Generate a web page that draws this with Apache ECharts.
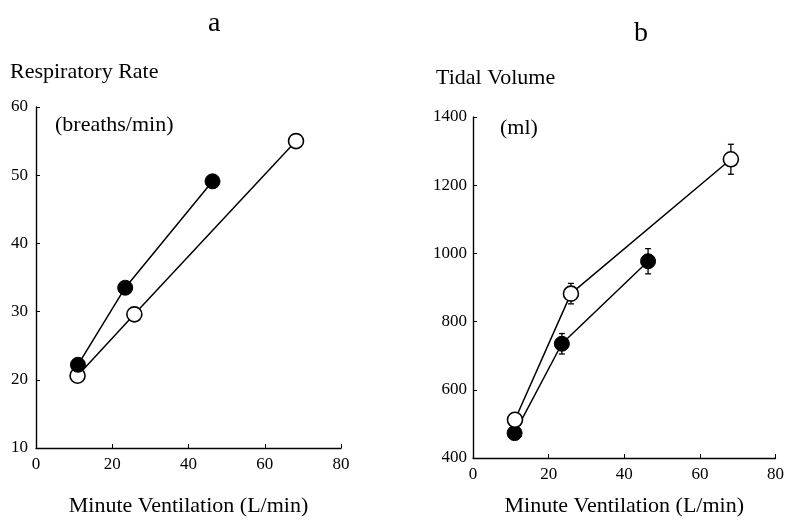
<!DOCTYPE html>
<html>
<head>
<meta charset="utf-8">
<script src="https://cdn.jsdelivr.net/npm/echarts@6/dist/echarts.min.js"></script>
<style>
    html, body { margin: 0; padding: 0; background: #fff; }
    #main { width: 787px; height: 522px; }
</style>
</head>
<body>
<div id="main"></div>
<script>
// 呼吸频率 (a)
var rrFilledX = [11.0, 23.4, 46.3];
var rrFilledY = [22.2, 33.5, 49.1];
var rrFilledErr = [0.3, 0.3, 0.9];
var rrOpenX = [10.9, 25.8, 68.2];
var rrOpenY = [20.6, 29.6, 55.0];
var rrOpenErr = [0.3, 0.3, 0.6];

// 潮气量 (b)
var tvFilledX = [11.0, 23.5, 46.3];
var tvFilledY = [473, 735, 977];
var tvFilledErr = [10, 30, 37];
var tvOpenX = [11.1, 25.9, 68.2];
var tvOpenY = [512, 882, 1276];
var tvOpenErr = [10, 30, 44];

var xTicks = [0, 20, 40, 60, 80];
var rrTicks = [10, 20, 30, 40, 50, 60];
var tvTicks = [400, 600, 800, 1000, 1200, 1400];

var FONT = 'Liberation Serif';

function zip(xs, ys) {
    var out = [];
    for (var i = 0; i < xs.length; i++) out.push([xs[i], ys[i]]);
    return out;
}
function zip3(xs, ys, es) {
    var out = [];
    for (var i = 0; i < xs.length; i++) out.push([xs[i], ys[i], es[i]]);
    return out;
}

function errorBars(params, api) {
    var x = api.value(0), y = api.value(1), e = api.value(2);
    var top = api.coord([x, y + e]);
    var bot = api.coord([x, y - e]);
    var st = { stroke: '#000', lineWidth: 1.3 };
    return {
        type: 'group',
        children: [
            { type: 'line', shape: { x1: top[0], y1: top[1], x2: bot[0], y2: bot[1] }, style: st },
            { type: 'line', shape: { x1: top[0] - 3, y1: top[1], x2: top[0] + 3, y2: top[1] }, style: st },
            { type: 'line', shape: { x1: bot[0] - 3, y1: bot[1], x2: bot[0] + 3, y2: bot[1] }, style: st }
        ]
    };
}

function xAxisDef(gridIndex, nameGap) {
    return {
        gridIndex: gridIndex,
        type: 'value',
        min: 0, max: 80, interval: 20,
        name: 'Minute Ventilation (L/min)',
        nameLocation: 'middle',
        nameGap: nameGap,
        nameTextStyle: { fontFamily: FONT, fontSize: 22, color: '#000' },
        axisLine: { lineStyle: { color: '#000', width: 1.4 } },
        axisTick: { inside: true, length: 4, lineStyle: { color: '#000' } },
        axisLabel: {
            fontFamily: FONT, fontSize: 17, color: '#000', margin: 8,
            formatter: function (v) { return xTicks.indexOf(v) >= 0 ? String(v) : ''; }
        },
        splitLine: { show: false }
    };
}

function yAxisDef(gridIndex, min, max, interval, ticks, margin) {
    return {
        gridIndex: gridIndex,
        type: 'value',
        min: min, max: max, interval: interval,
        axisLine: { show: true, lineStyle: { color: '#000', width: 1.4 } },
        axisTick: { show: true, inside: true, length: 4, lineStyle: { color: '#000' } },
        axisLabel: {
            fontFamily: FONT, fontSize: 17, color: '#000', margin: margin,
            formatter: function (v) { return ticks.indexOf(v) >= 0 ? String(v) : ''; }
        },
        splitLine: { show: false }
    };
}

function lineSeries(xi, data, filled, z) {
    return {
        type: 'line',
        xAxisIndex: xi, yAxisIndex: xi,
        data: data,
        symbol: 'circle',
        symbolSize: 15,
        z: z,
        lineStyle: { color: '#000', width: 1.5 },
        itemStyle: filled ? { color: '#000', borderColor: '#000', borderWidth: 1 }
                          : { color: '#fff', borderColor: '#000', borderWidth: 1.6 },
        emphasis: { disabled: true },
        animation: false
    };
}

function barSeries(xi, data) {
    return {
        type: 'custom',
        xAxisIndex: xi, yAxisIndex: xi,
        renderItem: errorBars,
        data: data,
        z: 1,
        animation: false
    };
}

function label(text, left, top, size) {
    return { text: text, left: left, top: top,
             textStyle: { fontFamily: FONT, fontSize: size, fontWeight: 'normal', color: '#000' } };
}

var chart = echarts.init(document.getElementById('main'));
var option = {
    backgroundColor: '#fff',
    animation: false,
    title: [
        label('a', 203, 5, 28),
        label('b', 629, 15, 28),
        label('Respiratory Rate', 5, 56, 22),
        label('Tidal Volume', 431, 62, 22),
        label('(breaths/min)', 50, 109, 22),
        label('(ml)', 495, 112, 22)
    ],
    grid: [
        { left: 36, top: 107, width: 305, height: 341 },
        { left: 473, top: 117, width: 308, height: 341 }
    ],
    xAxis: [xAxisDef(0, 47), xAxisDef(1, 37)],
    yAxis: [
        yAxisDef(0, 10, 60, 10, rrTicks, 8),
        yAxisDef(1, 400, 1400, 200, tvTicks, 6)
    ],
    series: [
        barSeries(0, zip3(rrFilledX, rrFilledY, rrFilledErr)),
        barSeries(0, zip3(rrOpenX, rrOpenY, rrOpenErr)),
        lineSeries(0, zip(rrOpenX, rrOpenY), false, 2),
        lineSeries(0, zip(rrFilledX, rrFilledY), true, 3),
        barSeries(1, zip3(tvFilledX, tvFilledY, tvFilledErr)),
        barSeries(1, zip3(tvOpenX, tvOpenY, tvOpenErr)),
        lineSeries(1, zip(tvFilledX, tvFilledY), true, 2),
        lineSeries(1, zip(tvOpenX, tvOpenY), false, 3)
    ]
};
chart.setOption(option);
</script>
</body>
</html>
